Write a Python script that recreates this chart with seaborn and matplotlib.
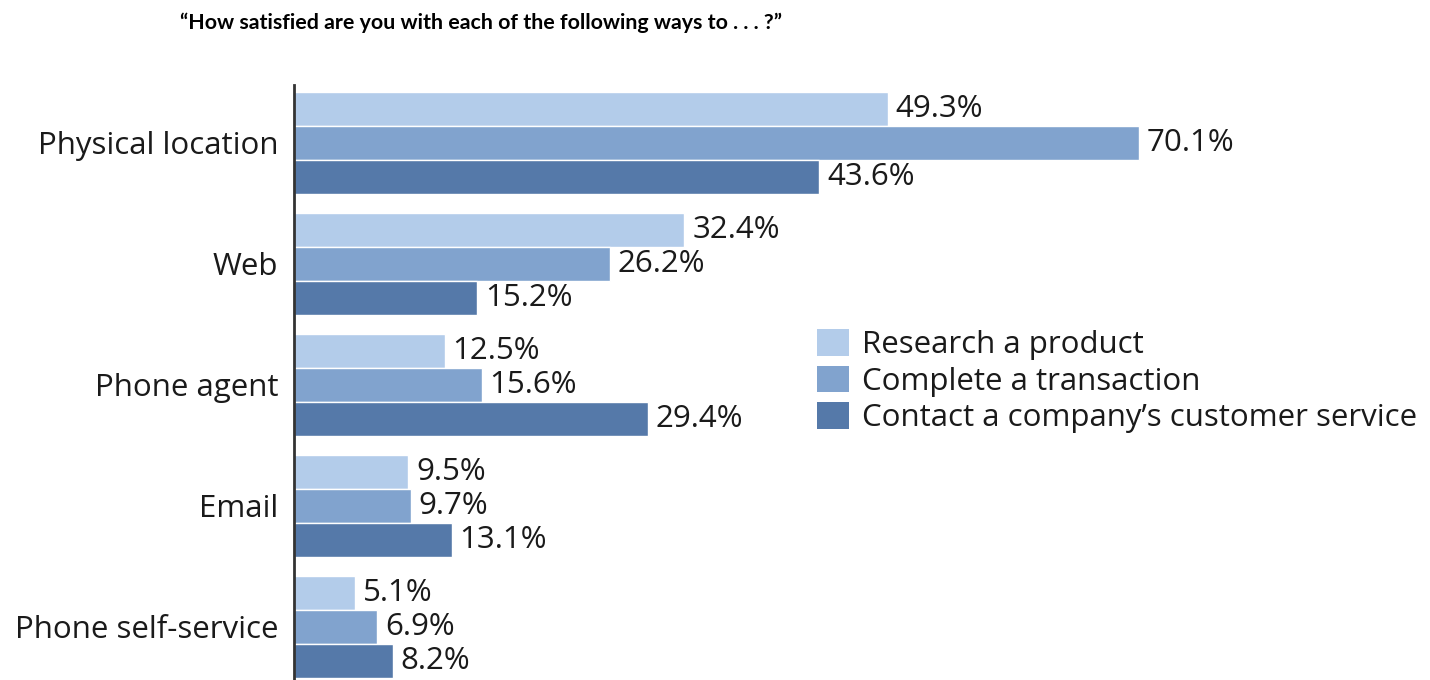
import matplotlib
matplotlib.use("Agg")
import matplotlib.pyplot as plt
import seaborn as sns
import pandas as pd
from matplotlib.patches import Patch

categories = ["Physical location", "Web", "Phone agent", "Email", "Phone self-service"]
series_names = ["Research a product", "Complete a transaction", "Contact a company\u2019s customer service"]
research = [49.3, 32.4, 12.5, 9.5, 5.1]
transaction = [70.1, 26.2, 15.6, 9.7, 6.9]
contact = [43.6, 15.2, 29.4, 13.1, 8.2]
colors = ["#B3CCEA", "#81A3CE", "#5579A9"]
title = "\u201cHow satisfied are you with each of the following ways to . . . ?\u201d"

rows = []
for name, vals in zip(series_names, [research, transaction, contact]):
    for c, v in zip(categories, vals):
        rows.append({"Channel": c, "Series": name, "Value": v})
df = pd.DataFrame(rows)

sns.set_style("white")
plt.rcParams["font.family"] = ["Open Sans", "DejaVu Sans"]

fig = plt.figure(figsize=(14.3, 6.8), dpi=100)
ax = fig.add_axes([294/1430, 0, 1 - 294/1430, 1 - 85/680])

sns.barplot(data=df, y="Channel", x="Value", hue="Series", order=categories,
            hue_order=series_names, palette=colors, orient="h", width=0.843,
            gap=0, saturation=1, errorbar=None, ax=ax, legend=False)

for cont in ax.containers:
    ax.bar_label(cont, fmt="%.1f%%", padding=5.5, fontsize=22.5, color="#1a1a1a")

ax.set_xlim(0, 94.27)
ax.set_ylim(4.438, -0.479)
ax.set_xlabel("")
ax.set_ylabel("")
ax.set_xticks([])
ax.tick_params(axis="y", length=0, pad=11.5, labelsize=22.5, labelcolor="#1a1a1a")
for s in ["top", "right", "bottom"]:
    ax.spines[s].set_visible(False)
ax.spines["left"].set_color("#333333")
ax.spines["left"].set_linewidth(2)

handles = [Patch(facecolor=c, edgecolor="none") for c in colors]
fig.legend(handles, series_names, loc="upper left",
           bbox_to_anchor=(817/1430, 1 - 329/680), frameon=False,
           fontsize=22.5, handlelength=1.03, handleheight=0.95,
           handletextpad=0.41, labelspacing=0.17, borderaxespad=0, borderpad=0,
           labelcolor="#1a1a1a")

fig.text(481/1430, 1 - 23/680, title, ha="center", va="center",
         fontsize=15.4, fontweight="bold", color="#000000",
         family=["Lato", "DejaVu Sans"])

fig.savefig("out.png", dpi=100, facecolor="white")
